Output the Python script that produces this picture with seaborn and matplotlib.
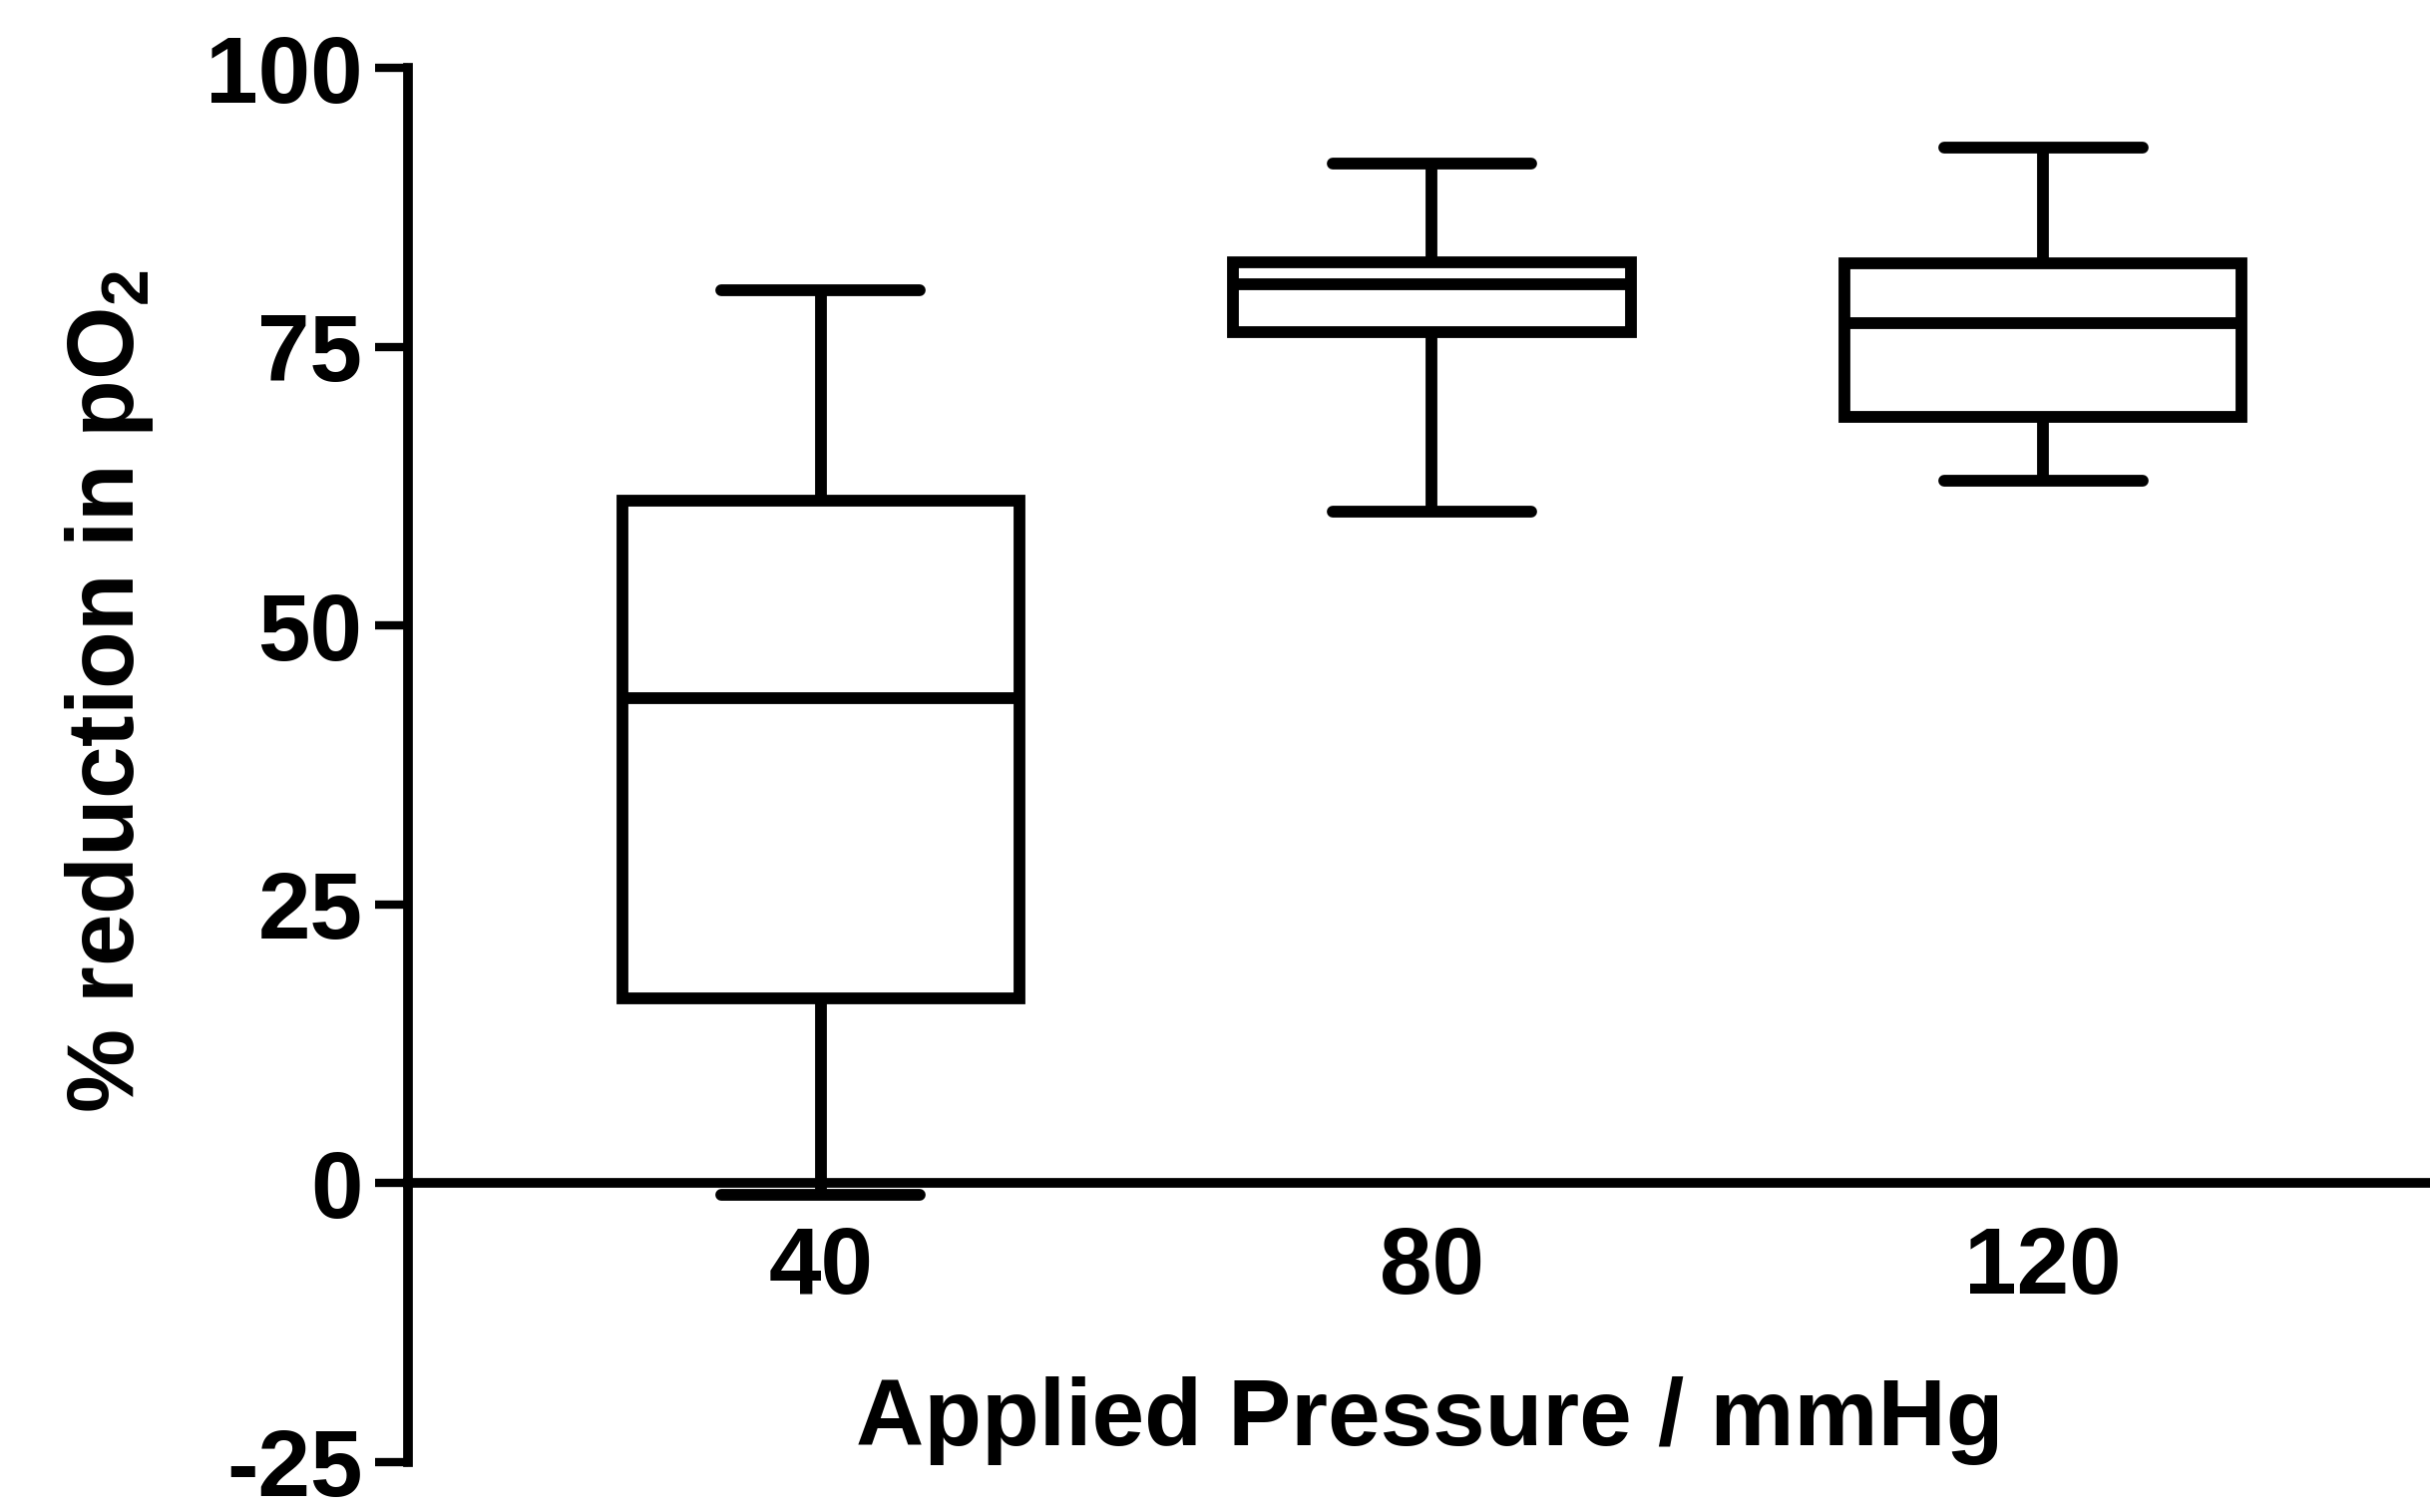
import numpy as np
import pandas as pd
import matplotlib
matplotlib.use("Agg")
import matplotlib.pyplot as plt
import seaborn as sns

# Five-number summaries (min, Q1, median, Q3, max) of % reduction in pO2
pressures = ["40", "80", "120"]
summary_40 = [-1.0, 16.6, 43.5, 61.2, 80.1]
summary_80 = [60.2, 76.3, 80.6, 82.6, 91.4]
summary_120 = [63.0, 68.7, 77.1, 82.5, 92.9]

y_ticks = [-25, 0, 25, 50, 75, 100]
y_tick_labels = ["-25", "0", "25", "50", "75", "100"]

df = pd.DataFrame({
    "pressure": np.repeat(pressures, 5),
    "reduction": summary_40 + summary_80 + summary_120,
})

sns.set_style("ticks")
plt.rcParams["font.family"] = ["Liberation Sans", "DejaVu Sans"]
plt.rcParams["mathtext.fontset"] = "custom"
plt.rcParams["mathtext.rm"] = "Liberation Sans:bold"
plt.rcParams["mathtext.it"] = "Liberation Sans:bold"
plt.rcParams["mathtext.bf"] = "Liberation Sans:bold"
for key in ("axes.edgecolor", "axes.labelcolor", "text.color",
            "xtick.color", "ytick.color"):
    plt.rcParams[key] = "black"

fig = plt.figure(figsize=(24.36, 15.16), dpi=100)
ax = fig.add_axes([0.168, 0.033, 0.832, 0.922])

sns.boxplot(
    data=df, x="pressure", y="reduction", order=pressures,
    whis=(0, 100), width=0.65, color="white", linecolor="black",
    linewidth=8.5, fliersize=0, ax=ax,
)

ax.set_xlim(-0.675, 2.633)
ax.set_ylim(-25, 100)
ax.set_yticks(y_ticks)
ax.set_yticklabels(y_tick_labels)

for side in ("top", "right"):
    ax.spines[side].set_visible(False)
ax.spines["left"].set_linewidth(7)
ax.spines["bottom"].set_linewidth(7)
ax.spines["bottom"].set_position(("data", 0))

ax.tick_params(axis="y", length=24, width=6, pad=9, labelsize=68, colors="black")
ax.tick_params(axis="x", length=0, pad=30, labelsize=68, colors="black")
for lbl in ax.get_yticklabels() + ax.get_xticklabels():
    lbl.set_fontweight("bold")

ax.set_xlabel("Applied Pressure / mmHg", fontsize=68, fontweight="bold")
ax.xaxis.label.set_verticalalignment("baseline")
ax.xaxis.set_label_coords(0.505, 0.012)

ax.set_ylabel(r"% reduction in pO$_\mathregular{2}$", fontsize=68, fontweight="bold")
ax.yaxis.label.set_verticalalignment("center")
ax.yaxis.set_label_coords(-0.148, 0.553)

fig.savefig("out.png", dpi=100, facecolor="white")
